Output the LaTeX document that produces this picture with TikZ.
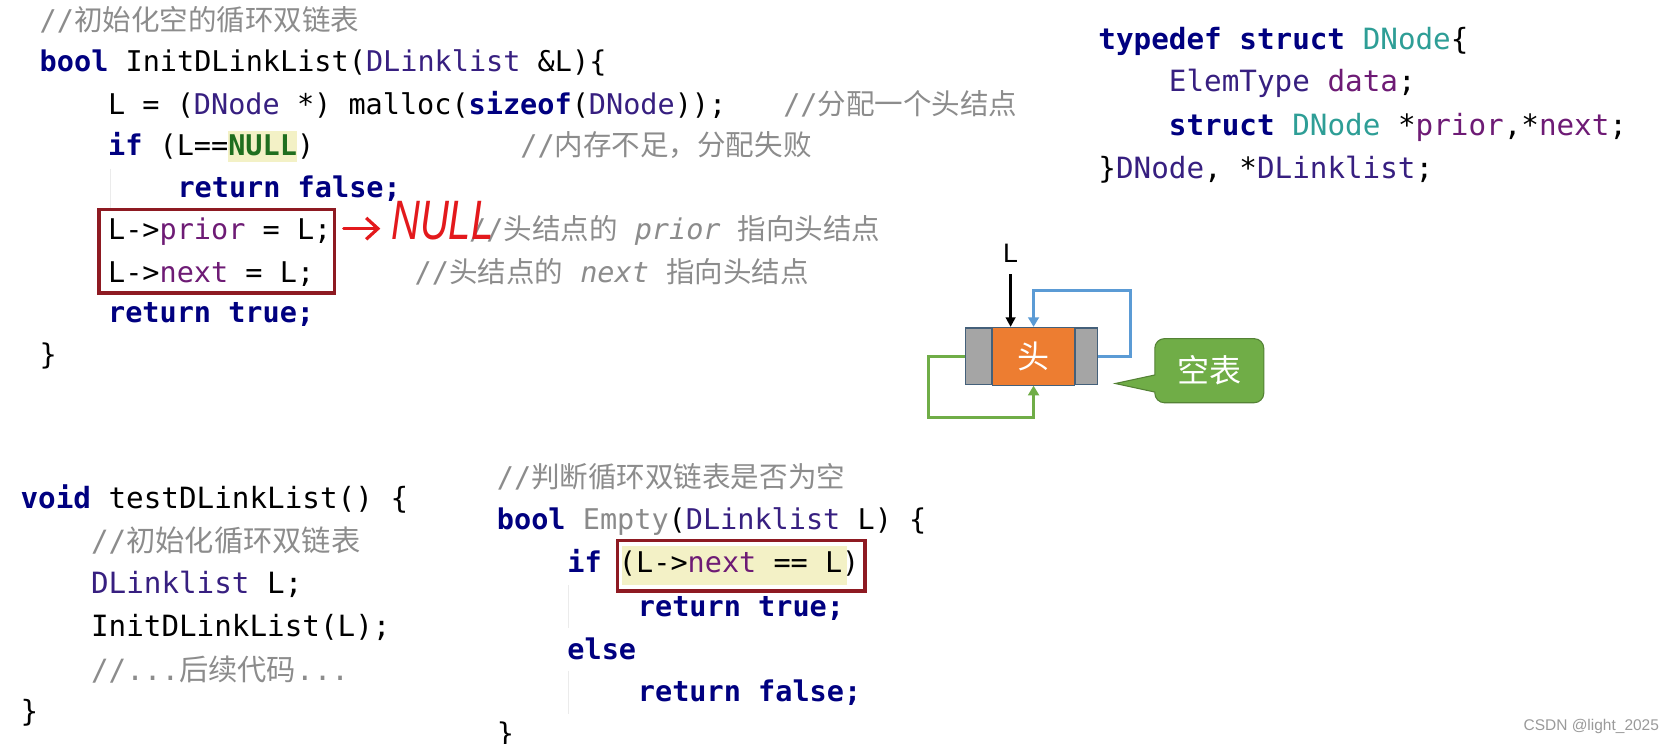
\documentclass[tikz,border=0pt]{standalone}
\usepackage{fontspec}
\usepackage{xcolor}
\usepackage{graphicx}
\usepackage{tikz}
\usetikzlibrary{positioning,arrows.meta}

\setmonofont{DejaVu Sans Mono}
\newfontfamily\cjk{Noto Sans CJK SC}
\newfontfamily\lsans{Liberation Sans}

\definecolor{kwblue}{HTML}{000080}
\definecolor{tyindigo}{HTML}{371F80}
\definecolor{stteal}{HTML}{2E9E96}
\definecolor{fdpurple}{HTML}{6E1B75}
\definecolor{cmgray}{HTML}{8C8C8C}
\definecolor{fngray}{HTML}{8A8A8A}
\definecolor{nullgreen}{HTML}{1F6E1F}
\definecolor{hlyellow}{HTML}{F3F1C6}
\definecolor{boxred}{HTML}{8E1A22}
\definecolor{handred}{HTML}{E3191C}
\definecolor{cellgray}{HTML}{A5A5A5}
\definecolor{cellorange}{HTML}{ED7D31}
\definecolor{cellborder}{HTML}{44607A}
\definecolor{linkblue}{HTML}{5B9BD5}
\definecolor{linkgreen}{HTML}{70AD47}
\definecolor{bubbleedge}{HTML}{548235}
\definecolor{wmgray}{HTML}{9A9A9A}

\newcommand{\codefont}{\ttfamily\fontsize{26.7}{32}\selectfont}
\newcommand{\codefontb}{\ttfamily\fontsize{27.4}{32}\selectfont}
\newcommand{\kwd}[1]{{\bfseries\color{kwblue}#1}}
\newcommand{\tname}[1]{{\color{tyindigo}#1}}
\newcommand{\sname}[1]{{\color{stteal}#1}}
\newcommand{\fname}[1]{{\color{fdpurple}#1}}
\newcommand{\cmnt}[1]{{\color{cmgray}#1}}
\newcommand{\zh}[1]{{\cjk #1}}

\begin{document}
\begin{tikzpicture}[
  x=1pt, y=-1pt,
  code/.style={anchor=base west,inner sep=0pt,font=\codefont},
  codeb/.style={anchor=base west,inner sep=0pt,font=\codefontb},
  redbox/.style={draw=boxred,line width=3.5pt,inner sep=0pt},
  guide/.style={draw=black!8,line width=1pt},
  handarr/.style={-{Straight Barb[length=11pt,width=20pt,line width=3pt]},handred,line width=3pt,line cap=round},
  cell/.style={draw=cellborder,line width=1pt,inner sep=0pt,minimum height=53},
  ptrarr/.style={-{Triangle[length=9pt,width=9pt]},line width=2.2pt},
  bluearr/.style={-{Triangle[length=9pt,width=10pt]},linkblue,line width=2.8pt},
  greenarr/.style={-{Triangle[length=9pt,width=10pt]},linkgreen,line width=2.8pt}
]
\fill[white] (0,0) rectangle (1567,696);
\useasboundingbox (0,0) rectangle (1567,696);

% highlights and indent guides
\fill[hlyellow] (213.5,123) rectangle (278,152);
\fill[hlyellow] (582,511) rectangle (793,548);
\draw[guide] (103,158) -- (103,197);
\draw[guide] (532,548) -- (532,588);
\draw[guide] (532,628) -- (532,668);

% InitDLinkList
\node[code] (c1) at (37,29) {\cmnt{//\zh{初始化空的循环双链表}}};
\node[code] (init) at (37,67) {\kwd{bool} InitDLinkList(\tname{DLinklist} \&L)\{};
\node[code] (alloc) at (101,107) {L = (\tname{DNode} *) malloc(\kwd{sizeof}(\tname{DNode}));};
\node[code] (allocc) at (733,107) {\cmnt{//\zh{分配一个头结点}}};
\node[code] (ifnull) at (101,146) {\kwd{if} (L==\textbf{\color{nullgreen}NULL})};
\node[code] (ifnullc) at (487,146) {\cmnt{//\zh{内存不足，分配失败}}};
\node[code] (retf) at (166,185) {\kwd{return false;}};
\node[code] (prior) at (101,224) {L->\fname{prior} = L;};
\node[code] (priorc) at (439,224) {\cmnt{//\zh{头结点的} \textit{prior} \zh{指向头结点}}};
\node[code] (next) at (101,264) {L->\fname{next} = L;};
\node[code] (nextc) at (388,264) {\cmnt{//\zh{头结点的} \textit{next} \zh{指向头结点}}};
\node[code] (rett) at (101,302) {\kwd{return true;}};
\node[code] (initend) at (37,341) {\}};

\node[redbox,minimum width=220,minimum height=78] (initbox) at (203,235) {};
\node[font=\lsans\itshape\fontsize{52}{54}\selectfont,text=handred,inner sep=0pt] (nulltxt) at (414,207) {\scalebox{0.72}[1]{NULL}};
\coordinate (nullhead) at (356,214);
\draw[handarr] ([xshift=7pt]initbox.east |- nullhead) -- (nullhead);

% struct DNode
\node[codeb] (s1) at (1028,46) {\kwd{typedef struct} \sname{DNode}\{};
\node[codeb] (s2) at (1094,86) {\tname{ElemType} \fname{data};};
\node[codeb] (s3) at (1094,127) {\kwd{struct} \sname{DNode} *\fname{prior},*\fname{next};};
\node[codeb] (s4) at (1028,167) {\}\tname{DNode}, *\tname{DLinklist};};

% empty list
\node[font=\lsans\fontsize{25}{27}\selectfont,inner sep=2pt] (lptr) at (946,237) {L};
\node[cell,fill=cellgray,minimum width=24] (hprior) at (916,333.5) {};
\node[cell,fill=cellorange,minimum width=77,minimum height=54,right=0pt of hprior,
      font=\cjk\fontsize{30}{32}\selectfont,text=white] (head) {头};
\node[cell,fill=cellgray,minimum width=20,right=0pt of head] (hnext) {};
\draw[ptrarr] ([yshift=-9pt]lptr.south) -- (head.north -| lptr);
\coordinate (nextturn) at (1058,272);
\coordinate (priorturn) at (869,391);
\draw[bluearr] (hnext.east) -| (nextturn) -| (head.north);
\draw[greenarr] (hprior.west) -| (priorturn) -| (head.south);

\draw[fill=linkgreen,draw=bubbleedge,line width=1pt] (1081,367) -- (1044,359) -- (1081,351)
  [rounded corners=9pt] -- (1081,317) -- (1183,317) -- (1183,377) -- (1081,377) [sharp corners] -- cycle;
\node[font=\cjk\fontsize{30}{32}\selectfont,text=white] (emptylbl) at (1132,347) {空表};

% testDLinkList
\node[codeb] (t1) at (19,476) {\kwd{void} testDLinkList() \{};
\node[codeb] (t2) at (85,516) {\cmnt{//\zh{初始化循环双链表}}};
\node[codeb] (t3) at (85,556) {\tname{DLinklist} L;};
\node[codeb] (t4) at (85,596) {InitDLinkList(L);};
\node[codeb] (t5) at (85,637) {\cmnt{//...\zh{后续代码}...}};
\node[codeb] (t6) at (19,675) {\}};

% Empty
\node[code] (e0) at (465,456) {\cmnt{//\zh{判断循环双链表是否为空}}};
\node[code] (e1) at (465,496) {\kwd{bool} {\color{fngray}Empty}(\tname{DLinklist} L) \{};
\node[code] (e2) at (531,536) {\kwd{if} (L->\fname{next} == L)};
\node[code] (e3) at (597,577) {\kwd{return true;}};
\node[code] (e4) at (531,617) {\kwd{else}};
\node[code] (e5) at (597,657) {\kwd{return false;}};
\node[code] (e6) at (465,696) {\}};
\node[redbox,minimum width=232,minimum height=47] (condbox) at (694,529.5) {};

\node[anchor=base west,font=\lsans\fontsize{14.5}{17}\selectfont,text=wmgray,inner sep=0pt] (wmark) at (1426,684) {CSDN @light\_2025};
\end{tikzpicture}
\end{document}
